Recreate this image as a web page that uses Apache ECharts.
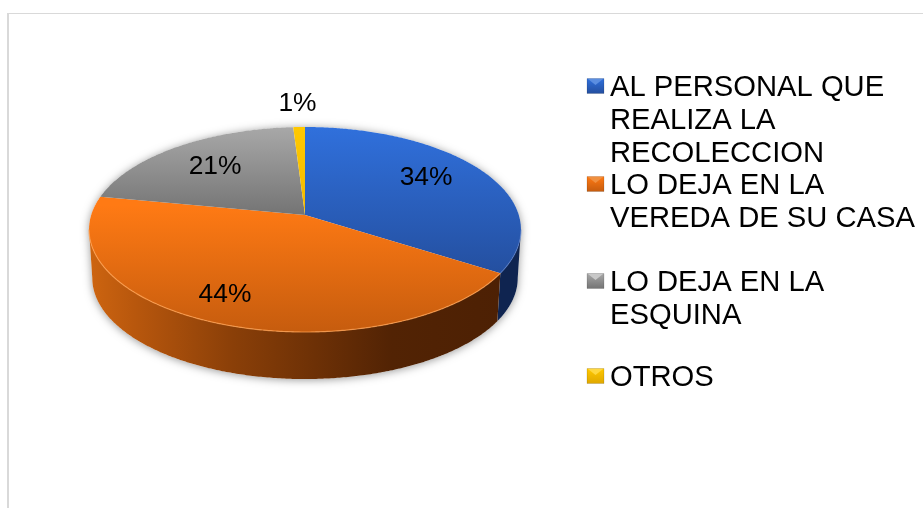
<!DOCTYPE html>
<html>
<head>
<meta charset="utf-8">
<style>
  html, body { margin: 0; padding: 0; background: #fff; }
  #chart { width: 923px; height: 508px; }
</style>
<script src="https://cdn.jsdelivr.net/npm/echarts@6/dist/echarts.min.js"></script>
</head>
<body>
<div id="chart"></div>
<script>
const categories = [
  "AL PERSONAL QUE\nREALIZA LA\nRECOLECCION",
  "LO DEJA EN LA\nVEREDA DE SU CASA",
  "LO DEJA EN LA\nESQUINA",
  "OTROS",
];
const values = [34, 44, 21, 1];

// gradient stops of the top face, the wall and the legend key
const topColors = [
  ["#3070dc", "#244f9f"],
  ["#ff7a14", "#c65c0e"],
  ["#a8a8a8", "#747474"],
  ["#ffc800", "#e0a800"],
];
const wallColors = ["#0f2450", null, "#555555", "#806000"];
const keyColors = [
  ["#5b8ee0", "#2a55a5"],
  ["#f09040", "#c05a10"],
  ["#c8c8c8", "#777777"],
  ["#ffd840", "#c89800"],
];
// where each percent label sits on the disc (radius share, degrees off mid angle)
const labelRadius = [0.72, 0.78, 0.69, 1.325];
const labelShift = [-5, 4, 0.5, 0];
// first line centre of each legend entry
const legendY = [86, 184, 281, 376];

const chart = echarts.init(document.getElementById("chart"));

// disc seen in perspective: centre of the pie is not the centre of the ellipse
const cx = 305, cy = 215, R = 213.8, S = 100.45, P = 0.1415;
const DEPTH = 48.8, BOTTOM_SCALE = 0.985;
const total = values.reduce((a, b) => a + b, 0);

function project(deg, r, lower) {
  const t = (deg * Math.PI) / 180;
  const u = r * Math.sin(t), v = -r * Math.cos(t);
  const w = 1 - P * v;
  const s = lower ? BOTTOM_SCALE : 1;
  return [cx + (R * s * u) / w, cy + (S * s * v) / w + (lower ? DEPTH : 0)];
}

function arc(from, to, lower) {
  const pts = [];
  const n = Math.max(2, Math.ceil(Math.abs(to - from) * 2));
  for (let i = 0; i <= n; i++) pts.push(project(from + ((to - from) * i) / n, 1, lower));
  return pts;
}

// the wall shows only between the two side tangents of the ellipse
const FRONT_FROM = (Math.acos(-P) * 180) / Math.PI;
const FRONT_TO = 360 - FRONT_FROM;

function vGrad(c, y0, y1) {
  return new echarts.graphic.LinearGradient(0, y0, 0, y1, [
    { offset: 0, color: c[0] },
    { offset: 1, color: c[1] },
  ], true);
}

const orangeWall = new echarts.graphic.LinearGradient(92, 0, 520, 0, [
  { offset: 0, color: "#cc6410" },
  { offset: 0.1, color: "#b8570d" },
  { offset: 0.33, color: "#8a3f08" },
  { offset: 0.7, color: "#522304" },
  { offset: 1, color: "#4c2004" },
], true);

function renderSlice(params, api) {
  const i = params.dataIndex;
  const value = api.value(0);
  const before = values.slice(0, i).reduce((a, b) => a + b, 0);
  const start = (before / total) * 360;
  const end = start + (value / total) * 360;
  const children = [];

  if (i === 0) {
    // soft shadow under the whole pie
    children.push({
      type: "polygon",
      z2: 0,
      shape: { points: arc(FRONT_FROM, FRONT_TO, true).concat(arc(FRONT_TO, FRONT_FROM + 360, false)) },
      style: { fill: "#fff", shadowBlur: 9, shadowColor: "rgba(0,0,0,0.4)", shadowOffsetY: 1 },
    });
  }

  const wFrom = Math.max(start, FRONT_FROM), wTo = Math.min(end, FRONT_TO);
  if (wTo > wFrom) {
    children.push({
      type: "polygon",
      z2: 1,
      shape: { points: arc(wFrom, wTo, false).concat(arc(wTo, wFrom, true)) },
      style: { fill: wallColors[i] || orangeWall },
    });
  }

  const gradFrom = i === 1 ? 205 : 127;
  const gradTo = i === 2 ? 215 : i === 0 ? 275 : 332;
  children.push({
    type: "polygon",
    z2: 2,
    shape: { points: [[cx, cy]].concat(arc(start, end, false)) },
    style: { fill: vGrad(topColors[i], gradFrom, gradTo) },
  });

  if (wTo > wFrom) {
    // thin lit rim where the top meets the wall
    children.push({
      type: "polyline",
      z2: 3,
      shape: { points: arc(wFrom, wTo, false) },
      style: { fill: null, stroke: i === 1 ? "rgba(255,160,80,0.75)" : "rgba(90,130,210,0.5)", lineWidth: 1.2 },
    });
  }

  const mid = (start + end) / 2 + labelShift[i];
  const p = project(mid, labelRadius[i], false);
  children.push({
    type: "text",
    z2: 4,
    style: {
      text: value + "%",
      x: p[0],
      y: p[1] + 1,
      fill: "#000",
      font: '26.4px "Liberation Sans", Arial, sans-serif',
      align: "center",
      verticalAlign: "middle",
    },
  });

  return { type: "group", children };
}

// frame and legend
const graphic = [
  { type: "rect", shape: { x: 7, y: 13, width: 916, height: 1 }, style: { fill: "#d9d9d9" }, silent: true },
  { type: "rect", shape: { x: 7, y: 13, width: 2, height: 495 }, style: { fill: "#d9d9d9" }, silent: true },
];
categories.forEach((name, i) => {
  const y = legendY[i];
  graphic.push({
    type: "rect",
    shape: { x: 587, y: y - 7.5, width: 17, height: 15 },
    style: { fill: vGrad(topColors[i].map((c) => c), y - 7.5, y + 7.5), stroke: "rgba(0,0,0,0.25)", lineWidth: 0.5 },
    silent: true,
  });
  graphic.push({
    type: "polygon",
    shape: { points: [[588, y - 7], [603, y - 7], [595.5, y - 1]] },
    style: { fill: keyColors[i][0] },
    silent: true,
  });
  graphic.push({
    type: "text",
    left: 610,
    top: y - 15,
    style: {
      text: name,
      fill: "#000",
      font: '29.2px "Liberation Sans", Arial, sans-serif',
      lineHeight: 33,
      align: "left",
      verticalAlign: "top",
    },
    silent: true,
  });
});

chart.setOption({
  backgroundColor: "#fff",
  animation: false,
  graphic,
  series: [
    {
      type: "custom",
      coordinateSystem: "none",
      silent: true,
      data: values.map((v) => [v]),
      renderItem: renderSlice,
    },
  ],
});
</script>
</body>
</html>
